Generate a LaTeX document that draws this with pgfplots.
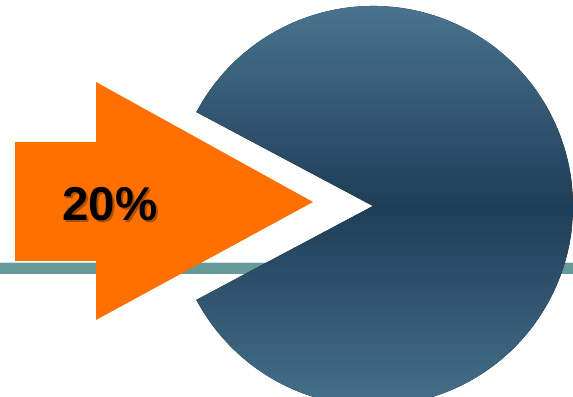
\documentclass[border=0pt]{standalone}
\usepackage{pgfplots}
\pgfplotsset{compat=1.18}
\usepackage{fontspec}
\setmainfont{Liberation Sans}
\definecolor{arroworange}{HTML}{FF7000}
\definecolor{linteal}{HTML}{659A98}
\definecolor{lintealhi}{HTML}{D2E3E1}
\definecolor{pietop}{HTML}{4F7B96}
\definecolor{piemid}{HTML}{1F3D57}
\definecolor{piebot}{HTML}{4B7792}
\definecolor{shadowc}{HTML}{6A3400}
% half-angle of the removed slice (gap)
\pgfmathsetmacro{\gaphalf}{28}
\begin{document}
\begin{tikzpicture}
\begin{axis}[
  scale only axis, width=14cm, height=9.6998cm,
  xmin=0, xmax=573, ymin=0, ymax=397,
  hide axis, clip=true,
]
% teal baseline
\addplot[fill=linteal, draw=none] coordinates {(0,123) (573,123) (573,134) (0,134)} -- cycle;
\addplot[fill=lintealhi, draw=none] coordinates {(0,134) (573,134) (573,135) (0,135)} -- cycle;
% pie with the 20% slice removed
\fill[top color=pietop, bottom color=piebot, middle color=piemid]
  (axis cs:373,191) -- ++(180-\gaphalf:200) arc[start angle=180-\gaphalf, end angle=-180+\gaphalf, radius=200] -- cycle;
% arrow
\addplot[fill=arroworange, draw=none] coordinates {
  (15,255) (96,255) (96,315) (313,195) (96,77) (96,136) (15,136)} -- cycle;
% label
\node[font=\bfseries\fontsize{33}{33}\selectfont, text=shadowc, opacity=0.55] at (axis cs:112,191) {20\%};
\node[font=\bfseries\fontsize{33}{33}\selectfont, text=black] at (axis cs:110,193) {20\%};
\end{axis}
\pgfresetboundingbox
\path (0,0) rectangle (14cm,9.6998cm);
\end{tikzpicture}
\end{document}
